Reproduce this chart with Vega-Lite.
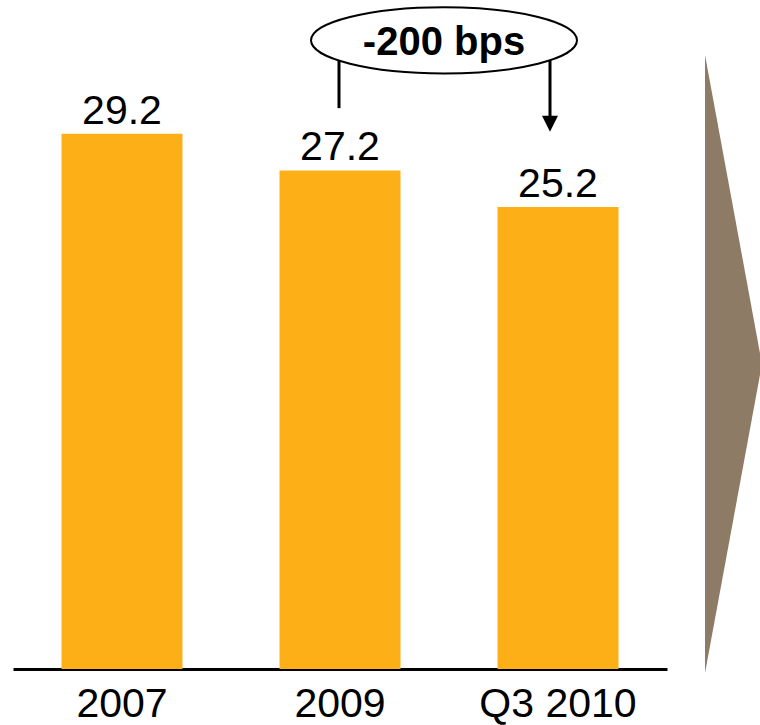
{
  "$schema": "https://vega.github.io/schema/vega-lite/v6.json",
  "width": 654,
  "height": 669,
  "autosize": {"type": "none"},
  "padding": {"left": 13, "top": 0, "right": 93, "bottom": 56},
  "background": "white",
  "config": {
    "view": {"stroke": null},
    "font": "Liberation Sans",
    "axisX": {
      "ticks": false,
      "grid": false,
      "domainColor": "black",
      "domainWidth": 3,
      "labelFontSize": 41,
      "labelColor": "black",
      "labelFont": "Liberation Sans",
      "labelPadding": 15,
      "labelAngle": 0
    }
  },
  "datasets": {
    "bars": [
      {"period": "2007", "value": 29.2},
      {"period": "2009", "value": 27.2},
      {"period": "Q3 2010", "value": 25.2}
    ],
    "change": [
      {"from": "2009", "to": "Q3 2010", "label": "-200 bps"}
    ],
    "chevron": [
      {"end": "base", "upper": 33.5, "lower": -0.22},
      {"end": "tip", "upper": 16.64, "lower": 16.64}
    ]
  },
  "layer": [
    {
      "layer": [
        {
          "data": {"name": "bars"},
          "mark": {"type": "bar", "color": "#FCAF17"},
          "encoding": {
            "x": {
              "field": "period",
              "type": "nominal",
              "sort": null,
              "scale": {"paddingInner": 0.445, "paddingOuter": 0.2225},
              "axis": {"title": null}
            },
            "y": {"field": "value", "type": "quantitative", "scale": {"domain": [0, 36.5]}, "axis": null}
          }
        },
        {
          "data": {"name": "bars"},
          "mark": {"type": "text", "fontSize": 41, "font": "Liberation Sans", "baseline": "alphabetic", "align": "center", "dy": -10, "color": "black"},
          "encoding": {
            "x": {"field": "period", "type": "nominal", "sort": null, "axis": {"title": null}},
            "y": {"field": "value", "type": "quantitative", "scale": {"domain": [0, 36.5]}, "axis": null},
            "text": {"field": "value", "type": "quantitative", "format": ".1f"}
          }
        },
        {
          "data": {"name": "change"},
          "mark": {"type": "rule", "color": "black", "strokeWidth": 3, "xOffset": -1},
          "encoding": {
            "x": {"field": "from", "type": "nominal", "axis": {"title": null}},
            "y": {"datum": 34.3, "type": "quantitative", "scale": {"domain": [0, 36.5]}, "axis": null},
            "y2": {"datum": 30.6}
          }
        },
        {
          "data": {"name": "change"},
          "mark": {"type": "rule", "color": "black", "strokeWidth": 3, "xOffset": -8},
          "encoding": {
            "x": {"field": "to", "type": "nominal", "axis": {"title": null}},
            "y": {"datum": 34.3, "type": "quantitative", "scale": {"domain": [0, 36.5]}, "axis": null},
            "y2": {"datum": 30.0}
          }
        },
        {
          "data": {"name": "change"},
          "mark": {"type": "point", "shape": "M-1,-1L1,-1L0,1Z", "size": 256, "filled": true, "color": "black", "opacity": 1, "xOffset": -8},
          "encoding": {
            "x": {"field": "to", "type": "nominal", "axis": {"title": null}},
            "y": {"datum": 29.75, "type": "quantitative", "scale": {"domain": [0, 36.5]}, "axis": null}
          }
        },
        {
          "data": {"name": "change"},
          "mark": {"type": "point", "shape": "M-1,0A1,0.249 0 1,1 1,0A1,0.249 0 1,1 -1,0Z", "size": 70756, "fill": "white", "stroke": "black", "strokeWidth": 2, "opacity": 1, "fillOpacity": 1, "xOffset": 104},
          "encoding": {
            "x": {"field": "from", "type": "nominal", "axis": {"title": null}},
            "y": {"datum": 34.3, "type": "quantitative", "scale": {"domain": [0, 36.5]}, "axis": null}
          }
        },
        {
          "data": {"name": "change"},
          "mark": {"type": "text", "fontSize": 40, "fontWeight": "bold", "font": "Liberation Sans", "baseline": "alphabetic", "align": "center", "color": "black", "xOffset": 104},
          "encoding": {
            "x": {"field": "from", "type": "nominal", "axis": {"title": null}},
            "y": {"datum": 33.5, "type": "quantitative", "scale": {"domain": [0, 36.5]}, "axis": null},
            "text": {"field": "label"}
          }
        }
      ]
    },
    {
      "data": {"name": "chevron"},
      "mark": {"type": "area", "color": "#8E7B66", "opacity": 1, "interpolate": "linear"},
      "encoding": {
        "x": {"field": "end", "type": "ordinal", "scale": {"type": "point", "range": [692, 749], "padding": 0}, "axis": null},
        "y": {"field": "upper", "type": "quantitative", "scale": {"domain": [0, 36.5]}, "axis": null},
        "y2": {"field": "lower"}
      }
    }
  ],
  "resolve": {"scale": {"x": "independent"}, "axis": {"x": "independent"}}
}
